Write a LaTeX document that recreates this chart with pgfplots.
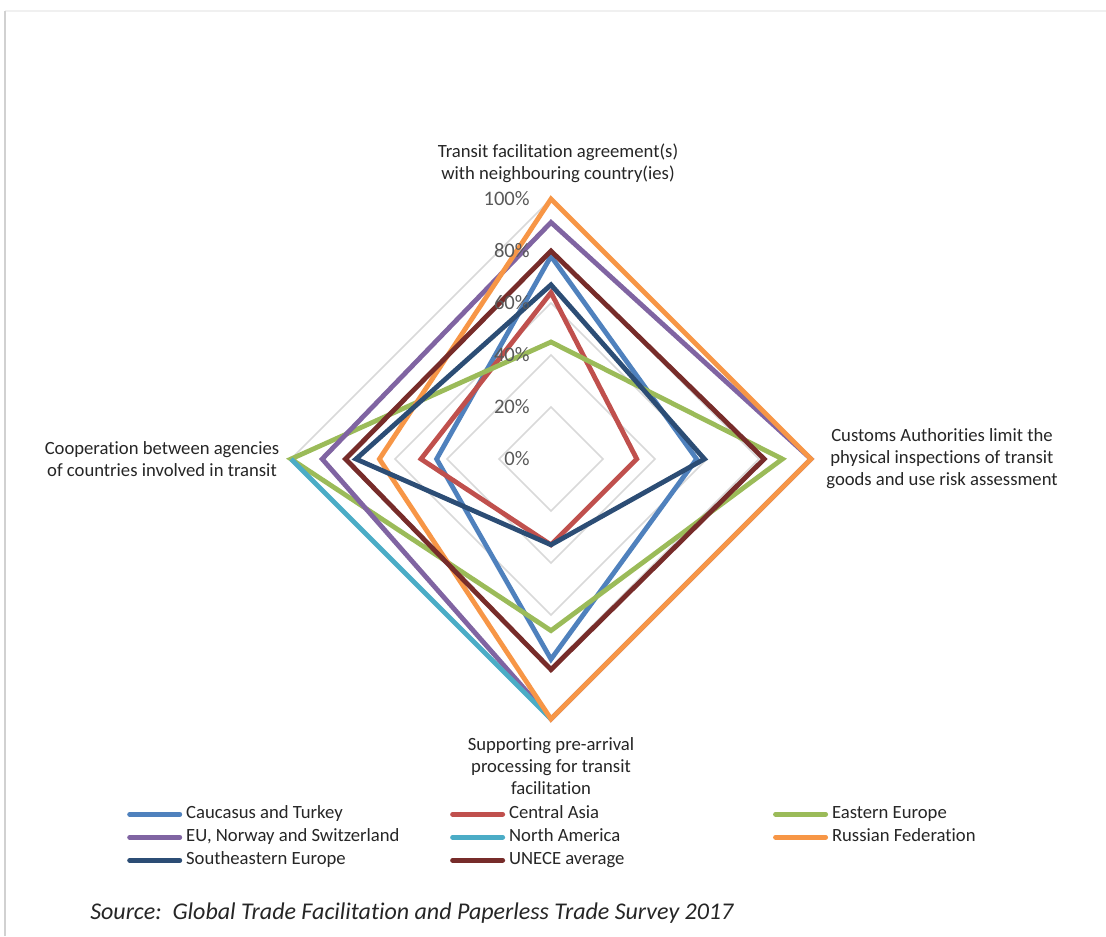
\documentclass[border=0pt]{standalone}
\usepackage{pgfplots}
\pgfplotsset{compat=1.18}
\usepackage{fontspec}
\setmainfont{Carlito}[Ligatures=NoCommon]
\definecolor{cCT}{HTML}{4F81BD}
\definecolor{cCA}{HTML}{C0504D}
\definecolor{cEE}{HTML}{9BBB59}
\definecolor{cEU}{HTML}{8064A2}
\definecolor{cNA}{HTML}{4BACC6}
\definecolor{cRF}{HTML}{F79646}
\definecolor{cSE}{HTML}{2C4D75}
\definecolor{cUN}{HTML}{772C2A}
\definecolor{gridc}{HTML}{D9D9D9}
\definecolor{tickc}{HTML}{595959}
\definecolor{txtc}{HTML}{262626}
\begin{document}
\begin{tikzpicture}[x=0.75pt,y=-0.75pt]
\useasboundingbox (0,0) rectangle (1106,936);
\fill[white] (0,0) rectangle (1106,936);
\draw[color=black!6,line width=1pt] (5,11) -- (1106,11);
\draw[color=black!18,line width=1.2pt] (5,11) -- (5,936);
\begin{axis}[
  at={(0pt,-702pt)}, anchor=south west,
  x=1.95pt, y=1.95pt,
  xmin=-211.92, xmax=213.46, ymin=-183.46, ymax=176.54,
  hide axis, clip=false,
  series/.style={data cs=polar, line width=3.6pt, line join=miter, miter limit=10},
  gridline/.style={data cs=polar, color=gridc, line width=1.1pt, line join=miter, forget plot},
  legend columns=3,
  legend cell align=left,
  legend style={at={(0.1148,0.1389)}, anchor=north west, draw=none, fill=none,
    inner sep=0pt, column sep=3pt, row sep=5.25pt,
    nodes={inner sep=0pt, anchor=west, text height=9.5pt, text depth=2.5pt,
      font=\fontsize{14pt}{16pt}\selectfont, text=txtc}},
  legend image code/.code={\draw[#1, line width=3.6pt, line cap=round] (1.8pt,0pt) -- (39.4pt,0pt);},
]
\addplot[gridline] coordinates {(90,20) (0,20) (270,20) (180,20)} -- cycle;
\addplot[gridline] coordinates {(90,40) (0,40) (270,40) (180,40)} -- cycle;
\addplot[gridline] coordinates {(90,60) (0,60) (270,60) (180,60)} -- cycle;
\addplot[gridline] coordinates {(90,80) (0,80) (270,80) (180,80)} -- cycle;
\addplot[gridline] coordinates {(90,100) (0,100) (270,100) (180,100)} -- cycle;
% series: top, right, bottom, left
\addplot[series, color=cCT] coordinates {(90,78) (0,56) (270,77) (180,44)} -- cycle;
\addlegendentry{\makebox[195pt][l]{Caucasus and Turkey}}
\addplot[series, color=cCA] coordinates {(90,64) (0,33) (270,33) (180,50)} -- cycle;
\addlegendentry{\makebox[195pt][l]{Central Asia}}
\addplot[series, color=cEE] coordinates {(90,45) (0,89) (270,66) (180,100)} -- cycle;
\addlegendentry{\makebox[195pt][l]{Eastern Europe}}
\addplot[series, color=cEU] coordinates {(90,91) (0,100) (270,100) (180,88)} -- cycle;
\addlegendentry{\makebox[195pt][l]{EU, Norway and Switzerland}}
\addplot[series, color=cNA] coordinates {(270,100) (180,100)};
\addlegendentry{\makebox[195pt][l]{North America}}
\addplot[series, color=cRF] coordinates {(90,100) (0,100) (270,100) (180,66)} -- cycle;
\addlegendentry{\makebox[195pt][l]{Russian Federation}}
\addplot[series, color=cSE] coordinates {(90,67) (0,59) (270,33) (180,75)} -- cycle;
\addlegendentry{\makebox[195pt][l]{Southeastern Europe}}
\addplot[series, color=cUN] coordinates {(90,80) (0,82) (270,81) (180,79)} -- cycle;
\addlegendentry{\makebox[195pt][l]{UNECE average}}
\end{axis}
% radial tick labels
\begin{scope}[every node/.style={anchor=east, inner sep=0pt, text=tickc, font=\fontsize{15.5pt}{18pt}\selectfont}]
\node at (530,199) {100\%};
\node at (530,251) {80\%};
\node at (530,303) {60\%};
\node at (530,355) {40\%};
\node at (530,407) {20\%};
\node at (530,459) {0\%};
\end{scope}
% category labels
\begin{scope}[every node/.style={inner sep=0pt, text=txtc, align=center, font=\fontsize{14pt}{16.5pt}\selectfont}]
\node at (558,163) {Transit facilitation agreement(s)\\with neighbouring country(ies)};
\node at (942,459) {Customs Authorities limit the\\physical inspections of transit\\goods and use risk assessment};
\node at (162,459) {Cooperation between agencies\\of countries involved in transit};
\node at (551,766) {Supporting pre-arrival\\processing for transit\\facilitation};
\end{scope}
\node[anchor=west, inner sep=0pt, text=txtc, font=\fontsize{18pt}{21pt}\selectfont\itshape] at (90,913) {Source:\ \ Global Trade Facilitation and Paperless Trade Survey 2017};
\end{tikzpicture}
\end{document}
